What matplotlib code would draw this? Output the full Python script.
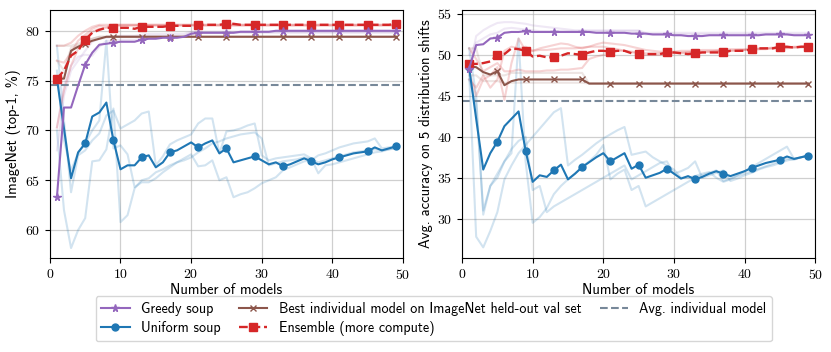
import matplotlib
matplotlib.use("Agg")
import matplotlib.pyplot as plt
import numpy as np

plt.rcParams['axes.formatter.use_mathtext'] = True

n_models = list(range(1, 50))

# ---- ImageNet (left) ----
in_greedy = [63.3, 72.3, 72.3, 74.5, 76.6, 77.8, 78.6, 78.7, 78.8, 78.9, 78.9, 78.9, 79.1, 79.2, 79.2,
             79.3, 79.3, 79.3, 79.4, 79.7, 79.8, 79.8, 79.8, 79.8, 79.8, 79.8, 79.9, 79.9, 79.9, 79.9,
             79.9, 80.0, 80.0, 80.0, 80.0, 80.0, 80.0, 80.0, 80.0, 80.0, 80.0, 80.0, 80.0, 80.0, 80.0,
             80.0, 80.0, 80.0, 80.0]
in_best = [75.2, 75.2, 78.0, 78.4, 78.7, 79.0, 79.2, 79.4] + [79.4] * 41
in_ens = [75.2, 76.0, 77.5, 78.0, 79.1, 79.8, 80.1, 80.3, 80.3, 80.3, 80.3, 80.2, 80.4, 80.4, 80.4,
          80.4, 80.5, 80.5, 80.5, 80.5, 80.6, 80.6, 80.6, 80.6, 80.7, 80.7, 80.6, 80.6, 80.6, 80.6,
          80.6, 80.6, 80.6, 80.6, 80.6, 80.6, 80.6, 80.6, 80.6, 80.6, 80.6, 80.6, 80.6, 80.6, 80.6,
          80.6, 80.6, 80.6, 80.7]
in_unif = [75.2, 70.2, 65.2, 67.8, 68.7, 71.4, 71.8, 72.8, 69.0, 66.1, 66.5, 66.5, 67.3, 67.5, 66.3,
           66.8, 67.8, 68.0, 68.4, 68.8, 68.3, 68.7, 69.0, 67.7, 68.2, 66.8, 67.0, 67.2, 67.4, 67.0,
           66.6, 66.8, 66.4, 66.6, 66.9, 67.2, 66.9, 66.6, 66.8, 67.1, 67.3, 67.5, 67.7, 67.8, 67.9,
           68.3, 68.0, 68.2, 68.4]
in_avg = 74.6

in_unif_runs = [
    [70.0, 62.0, 58.2, 60.0, 61.2, 66.9, 67.0, 68.1, 72.2, 60.8, 61.5, 64.2, 65.0, 65.2, 65.8,
     66.1, 66.5, 66.8, 67.2, 67.6, 66.4, 66.5, 67.0, 65.0, 65.3, 63.3, 63.6, 63.8, 64.2, 64.7,
     65.0, 65.3, 66.0, 66.3, 66.6, 66.9, 67.0, 67.5, 67.7, 68.0, 68.3, 68.5, 68.7, 68.8, 68.9,
     69.2, 68.2, 68.3, 68.4],
    [78.5, 71.0, 63.8, 67.5, 68.0, 69.0, 69.7, 71.5, 72.0, 70.2, 70.6, 71.0, 71.7, 71.9, 66.5,
     67.4, 68.6, 69.0, 69.3, 69.6, 70.7, 71.2, 71.2, 67.7, 69.9, 70.0, 70.2, 70.5, 70.7, 67.5,
     67.0, 67.2, 67.3, 67.4, 67.5, 67.6, 67.2, 65.7, 66.5, 66.6, 66.8, 67.0, 67.2, 67.4, 67.6,
     67.8, 67.9, 68.1, 68.3],
    [76.0, 69.0, 66.0, 67.7, 68.7, 70.0, 71.0, 79.0, 68.2, 68.5, 67.6, 64.3, 64.8, 64.8, 65.2,
     65.8, 66.3, 66.8, 67.0, 67.3, 67.8, 68.2, 68.7, 68.9, 69.2, 69.4, 69.6, 69.7, 69.8, 69.2,
     66.5, 66.7, 66.9, 67.0, 67.1, 67.3, 67.1, 66.8, 67.0, 67.2, 67.4, 67.6, 67.8, 67.9, 68.0,
     68.1, 68.0, 68.1, 68.2],
]
in_greedy_runs = [
    [70.3, 74.5, 76.5, 77.4, 77.6, 77.5, 78.4, 79.0, 79.0, 79.1, 79.1, 79.1, 79.2] + [79.5] * 6 + [79.8] * 30,
    [68.0, 73.5, 76.0, 77.0, 78.0, 78.9, 79.2, 79.3, 79.4, 79.5, 79.5, 79.5, 79.6] + [79.7] * 6 + [79.9] * 30,
]
in_ens_runs = [
    [78.5, 78.5, 78.8, 79.5, 80.0, 80.4, 80.6, 80.6] + [80.6] * 41,
    [77.0, 76.8, 77.8, 79.0, 79.6, 80.2, 80.5, 80.4] + [80.6] * 41,
    [70.3, 74.0, 76.5, 78.2, 79.3, 79.9, 80.2, 80.3] + [80.5] * 41,
]
in_best_runs = [
    [78.5, 78.5, 78.5, 78.7, 79.0, 79.2, 79.4, 79.4] + [79.4] * 41,
    [77.0, 76.0, 78.3, 78.5, 78.8, 79.2, 79.4, 79.4] + [79.4] * 41,
]

# ---- Distribution shifts (right) ----
ds_greedy = [48.3, 51.2, 51.3, 52.0, 52.1, 52.7, 52.8, 52.8, 52.9, 52.8, 52.8, 52.8, 52.8, 52.8, 52.8,
             52.8, 52.8, 52.8, 52.7, 52.7, 52.7, 52.7, 52.7, 52.6, 52.6, 52.6, 52.5, 52.5, 52.5, 52.4,
             52.4, 52.3, 52.3, 52.3, 52.4, 52.4, 52.4, 52.4, 52.4, 52.4, 52.4, 52.4, 52.5, 52.5, 52.5,
             52.5, 52.4, 52.4, 52.4]
ds_best = [48.6, 48.5, 47.9, 47.6, 48.0, 46.3, 46.8, 47.0, 47.0, 47.0, 47.0, 47.0, 47.0, 47.0, 47.0,
           47.0, 47.0, 46.5] + [46.5] * 31
ds_ens = [48.9, 48.9, 49.0, 49.2, 50.0, 50.1, 50.8, 50.7, 50.5, 49.8, 49.9, 49.7, 49.7, 49.9, 50.2,
          50.1, 50.0, 50.3, 50.5, 50.5, 50.4, 50.5, 50.5, 50.2, 50.1, 50.1, 50.1, 50.1, 50.3, 50.3,
          50.2, 50.1, 50.2, 50.3, 50.3, 50.3, 50.3, 50.5, 50.5, 50.5, 50.7, 50.8, 50.8, 50.8, 51.0,
          51.0, 50.9, 51.0, 51.0]
ds_unif = [48.5, 42.2, 36.0, 38.0, 39.4, 41.3, 42.2, 43.1, 38.3, 34.5, 35.3, 35.1, 35.9, 36.6, 34.8,
           35.5, 36.3, 36.9, 37.5, 38.0, 37.0, 37.5, 38.0, 36.1, 36.6, 35.0, 35.3, 35.6, 36.1, 35.5,
           34.9, 35.2, 34.8, 35.1, 35.5, 35.8, 35.5, 35.2, 35.5, 35.8, 36.2, 36.5, 36.8, 37.0, 37.2,
           37.6, 37.3, 37.5, 37.7]
ds_avg = 44.4

ds_unif_runs = [
    [48.0, 27.8, 26.5, 28.5, 30.8, 34.8, 36.5, 38.0, 39.0, 40.0, 41.0, 42.0, 43.0, 43.5, 36.5,
     37.2, 37.8, 38.5, 39.2, 39.8, 40.3, 40.8, 41.2, 37.8, 38.0, 38.2, 37.5, 37.0, 36.5, 36.0,
     35.0, 35.0, 35.2, 35.5, 35.7, 35.0, 34.5, 34.8, 35.3, 35.8, 36.3, 36.8, 37.3, 37.8, 38.3,
     38.8, 37.3, 37.5, 37.7],
    [50.8, 45.0, 30.5, 34.0, 35.0, 37.0, 38.0, 52.0, 37.0, 29.5, 30.2, 31.3, 33.0, 34.0, 34.8,
     35.5, 36.3, 37.0, 37.8, 39.0, 34.8, 35.5, 36.0, 33.5, 34.0, 31.5, 32.0, 32.5, 33.0, 33.5,
     34.0, 34.5, 35.0, 35.3, 35.6, 35.9, 34.6, 34.9, 35.2, 35.5, 35.8, 36.1, 36.4, 36.7, 37.0,
     37.3, 37.2, 37.5, 37.7],
    [47.0, 44.0, 31.0, 34.0, 35.5, 37.0, 38.5, 39.5, 40.0, 33.5, 34.0, 30.8, 31.5, 32.0, 32.5,
     33.0, 33.5, 34.0, 34.5, 35.0, 35.5, 36.0, 36.5, 34.8, 35.3, 35.8, 36.3, 36.8, 37.0, 35.5,
     35.8, 36.2, 37.0, 35.0, 35.3, 35.6, 35.9, 34.6, 34.9, 35.3, 35.6, 36.0, 36.3, 36.5, 36.8,
     37.1, 37.3, 37.5, 37.7],
]
ds_greedy_runs = [
    [48.0, 52.3, 53.0, 53.5, 53.9, 54.0, 54.0, 53.9, 53.8, 53.6, 53.5, 53.4, 53.3, 53.2, 53.1] + [53.0] * 10 + [52.7] * 24,
    [50.0, 51.5, 52.0, 52.5, 52.7, 53.2, 53.3, 53.2, 53.1, 53.0, 52.9, 52.9] + [52.9] * 13 + [52.5] * 24,
]
ds_ens_runs = [
    [50.8, 49.5, 48.0, 48.5, 49.0, 48.0, 48.0, 48.2, 48.0, 48.0, 48.0, 48.1, 48.1, 48.2, 48.2,
     48.3, 48.4, 49.5, 49.8, 50.0, 50.3, 50.5, 50.5, 50.3, 50.2, 50.0, 50.0, 50.0, 50.1, 50.2,
     50.2, 50.3, 50.3, 50.3, 50.4, 50.4, 50.5, 50.5, 50.6, 50.6, 50.7, 50.7, 50.8, 50.8, 50.9,
     50.9, 50.9, 51.0, 51.0],
    [47.0, 46.0, 47.5, 46.0, 47.0, 50.5, 51.0, 50.8, 51.0, 50.5, 50.8, 51.0, 51.2, 51.4, 51.3,
     51.0, 50.8, 51.0, 51.3, 51.5, 51.4, 51.3, 51.2, 51.0, 50.8, 50.6, 50.5, 50.4, 50.4, 50.4,
     50.5, 50.5, 50.5, 50.6, 50.6, 50.6, 50.6, 50.7, 50.7, 50.7, 50.8, 50.8, 50.8, 50.9, 50.9,
     50.9, 51.0, 51.0, 51.0],
    [48.0, 45.0, 47.0, 47.5, 48.5, 44.5, 49.0, 52.0, 50.5, 50.5, 50.6, 50.6, 50.7, 50.8, 50.8,
     50.8, 50.9, 51.0, 51.0, 51.0, 50.8, 50.7, 50.5, 50.4, 50.3, 50.2, 50.2, 50.2, 50.2, 50.3,
     50.3, 50.3, 50.4, 50.4, 50.4, 50.5, 50.5, 50.5, 50.5, 50.6, 50.6, 50.7, 50.7, 50.8, 50.8,
     50.8, 50.9, 50.9, 51.0],
]
ds_best_runs = [
    [50.8, 50.8, 47.5, 47.5, 47.5, 47.5, 47.8, 47.8, 47.8, 47.8, 47.8, 47.8, 47.8, 47.8, 47.8,
     47.8, 47.8, 46.5] + [46.5] * 31,
    [47.5, 47.5, 46.8, 46.8, 46.8, 46.6, 46.6, 46.6, 46.6, 46.6, 46.6, 46.6, 46.6, 46.6, 46.6,
     46.6, 46.6, 46.5] + [46.5] * 31,
]

c_greedy = '#9467bd'
c_unif = '#1f77b4'
c_best = '#8c564b'
c_ens = '#d62728'
c_avg = '#778899'

fig = plt.figure(figsize=(8.31, 3.52), dpi=100)
ax1 = fig.add_axes([0.060, 0.267, 0.425, 0.705])
ax2 = fig.add_axes([0.556, 0.267, 0.425, 0.705])


def draw(ax, greedy, best, ens, unif, avg, g_runs, b_runs, e_runs, u_runs):
    for r in u_runs:
        ax.plot(n_models, r, color=c_unif, alpha=0.2, lw=1.5)
    for r in g_runs:
        ax.plot(n_models, r, color=c_greedy, alpha=0.15, lw=1.5)
    for r in e_runs:
        ax.plot(n_models, r, color=c_ens, alpha=0.2, lw=1.5)
    for r in b_runs:
        ax.plot(n_models, r, color=c_best, alpha=0.15, lw=1.5)
    ax.axhline(avg, color=c_avg, ls='--', lw=1.5, label='Avg. individual model')
    ax.plot(n_models, unif, color=c_unif, marker='o', ms=5, markevery=4, lw=1.5, label='Uniform soup')
    ax.plot(n_models, best, color=c_best, marker='x', ms=4.5, markevery=4, lw=1.5,
            label='Best individual model on ImageNet held-out val set')
    ax.plot(n_models, ens, color=c_ens, marker='s', ms=6, markevery=4, lw=1.7, ls='--',
            label='Ensemble (more compute)')
    ax.plot(n_models, greedy, color=c_greedy, marker='*', ms=5.5, markevery=4, lw=1.5, label='Greedy soup')
    ax.set_xlim(0, 50)
    ax.grid(True, color='#b0b0b0', alpha=0.6, lw=0.9)
    ax.set_axisbelow(True)
    ax.set_xlabel('Number of models', family='cmss10', fontsize=10.6, labelpad=1)


draw(ax1, in_greedy, in_best, in_ens, in_unif, in_avg, in_greedy_runs, in_best_runs, in_ens_runs, in_unif_runs)
ax1.set_ylim(57.2, 82.1)
ax1.set_yticks([60, 65, 70, 75, 80])
ax1.set_ylabel('ImageNet (top-1, %)', family='cmss10', fontsize=10.6, labelpad=3)

draw(ax2, ds_greedy, ds_best, ds_ens, ds_unif, ds_avg, ds_greedy_runs, ds_best_runs, ds_ens_runs, ds_unif_runs)
ax2.set_ylim(25.2, 55.5)
ax2.set_yticks([30, 35, 40, 45, 50, 55])
ax2.set_ylabel('Avg. accuracy on 5 distribution shifts', family='cmss10', fontsize=10.6, labelpad=3)

for ax in (ax1, ax2):
    for lab in ax.get_xticklabels() + ax.get_yticklabels():
        lab.set_family('cmr10')
        lab.set_fontsize(10)

handles, labels = ax1.get_legend_handles_labels()
order = ['Greedy soup', 'Uniform soup', 'Best individual model on ImageNet held-out val set',
         'Ensemble (more compute)', 'Avg. individual model']
hmap = dict(zip(labels, handles))
fig.legend([hmap[k] for k in order], order, loc='lower center', ncol=3,
           bbox_to_anchor=(0.522, 0.01), prop={'family': 'cmss10', 'size': 10.2},
           handlelength=2.0, columnspacing=1.3, borderpad=0.4, labelspacing=0.35)

fig.savefig('out.png', dpi=100)
